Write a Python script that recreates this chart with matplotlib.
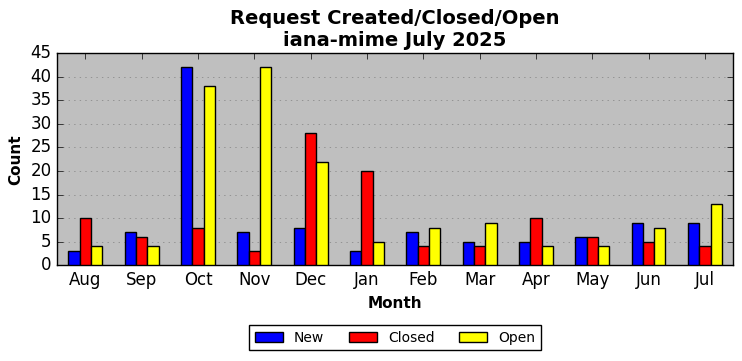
import numpy as np
import matplotlib
matplotlib.use('Agg')
import matplotlib.pyplot as plt

months = ['Aug', 'Sep', 'Oct', 'Nov', 'Dec', 'Jan', 'Feb', 'Mar', 'Apr', 'May', 'Jun', 'Jul']
new = [3, 7, 42, 7, 8, 3, 7, 5, 5, 6, 9, 9]
closed = [10, 6, 8, 3, 28, 20, 4, 4, 10, 6, 5, 4]
opened = [4, 4, 38, 42, 22, 5, 8, 9, 4, 4, 8, 13]

plt.style.use('classic')
fig, ax = plt.subplots(figsize=(7.42, 3.61), dpi=100)
fig.subplots_adjust(left=0.077, right=0.988, top=0.853, bottom=0.265)

x = np.arange(len(months))
w = 0.2
ax.bar(x - w, new, w, color='blue', edgecolor='black', label='New', zorder=3)
ax.bar(x, closed, w, color='red', edgecolor='black', label='Closed', zorder=3)
ax.bar(x + w, opened, w, color='yellow', edgecolor='black', label='Open', zorder=3)

ax.set_facecolor('#bfbfbf')
ax.set_xlim(-0.5, len(months) - 0.5)
ax.set_ylim(0, 45)
ax.set_yticks(range(0, 46, 5))
ax.set_xticks(x)
ax.set_xticklabels(months)
ax.tick_params(labelsize=12)
ax.yaxis.grid(True, linestyle=':', color='gray', zorder=0)
ax.set_axisbelow(True)

ax.set_title('Request Created/Closed/Open\niana-mime July 2025', fontsize=14, fontweight='bold')
ax.set_xlabel('Month', fontsize=11, fontweight='bold')
ax.set_ylabel('Count', fontsize=11, fontweight='bold')

ax.legend(loc='upper center', bbox_to_anchor=(0.5, -0.25), ncol=3, fontsize=10,
          columnspacing=1.8)

fig.savefig('out.png')
